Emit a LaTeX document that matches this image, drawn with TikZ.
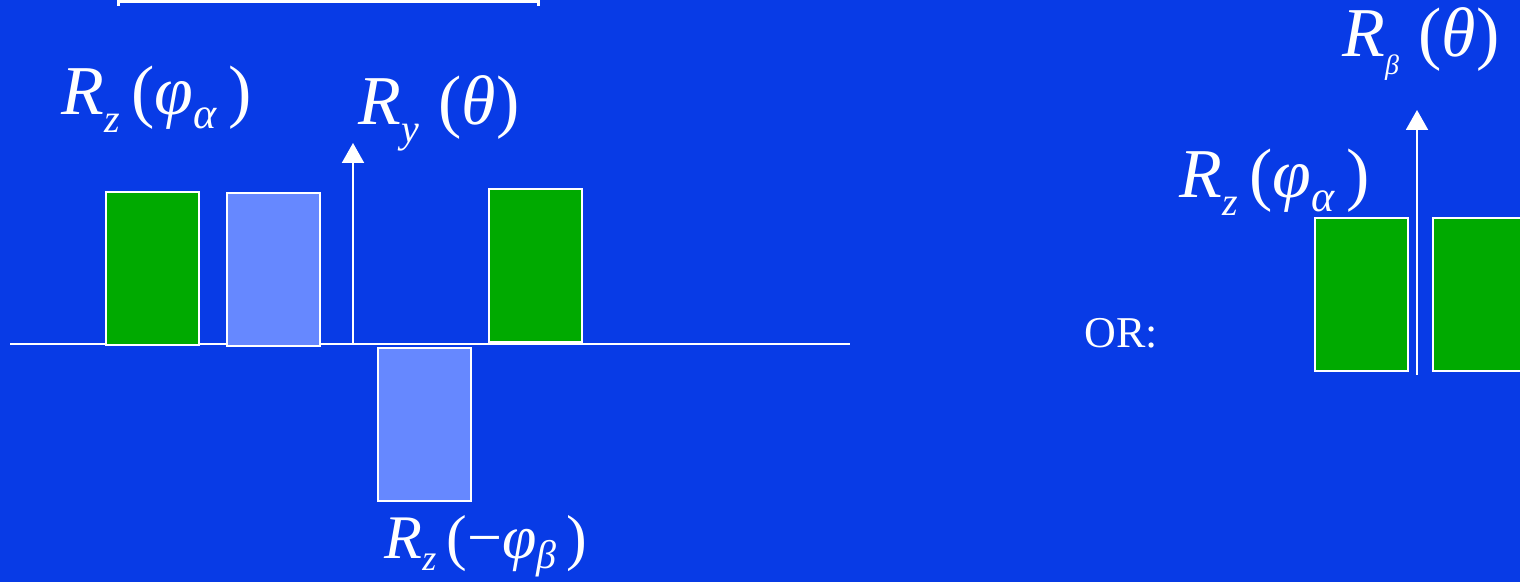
\documentclass[tikz,border=0pt]{standalone}
\usepackage{fontspec}
\setmainfont{Liberation Serif}
\usetikzlibrary{arrows.meta,positioning}
\definecolor{slide}{HTML}{083BE6}
\definecolor{pgreen}{HTML}{00AA00}
\definecolor{pblue}{HTML}{6688FF}
\newcommand{\labsize}{\fontsize{35}{38}\selectfont}
\newcommand{\subz}[1]{\lower9pt\hbox{\fontsize{20}{20}\selectfont\itshape #1}}
\newcommand{\subg}[1]{\lower7pt\hbox{\fontsize{22}{22}\selectfont\itshape #1}}

\begin{document}
\begin{tikzpicture}[x=0.5pt,y=-0.5pt]
  \tikzstyle{gp}=[rectangle,draw=white,line width=1pt,fill=pgreen,minimum width=46.5pt,minimum height=76.5pt,inner sep=0pt,anchor=north west]
  \tikzstyle{bp}=[gp,fill=pblue]
  \tikzstyle{lab}=[text=white,font=\labsize,inner sep=0pt,anchor=base west]
  \tikzstyle{rf}=[white,line width=1pt,-{Triangle[width=11pt,length=10pt]}]
  \fill[slide] (0,0) rectangle (1520,582);
  \useasboundingbox (0,0) rectangle (1520,582);
  % left sequence
  \coordinate (axl) at (10,344);
  \coordinate (axr) at (850,344);
  \draw[white,line width=1pt] (axl) -- (axr);
  \coordinate (bl) at (117,2);
  \coordinate (br) at (540,2);
  \draw[white,line width=1.5pt,{Bar[width=4pt]}-{Bar[width=4pt]}] (bl) -- (br);
  \node[gp] (za) at (105,191) {};
  \node[bp] (zb) at (226,192) {};
  \node[bp] (zm) at (377,347) {};
  \node[gp] (zc) at (488,188) {};
  \coordinate (yfoot) at (353,344);
  \coordinate (ytip) at (353,143);
  \draw[rf] (yfoot) -- (ytip);
  \node[lab] (lza) at (61,115) {\itshape R\subz{z}\,\upshape(\itshape φ\subg{α}\,\upshape)};
  \node[lab] (ly) at (358,125) {\itshape R\subz{y}\;\upshape(\itshape θ\upshape)};
  \node[lab,font=\fontsize{31}{33}\selectfont] (lzm) at (384,558) {\itshape R\lower6pt\hbox{\fontsize{18}{18}\selectfont\itshape z}\,\upshape(−\itshape φ\lower5pt\hbox{\fontsize{20}{20}\selectfont\itshape β}\,\upshape)};
  % alternative
  \node[text=white,font=\fontsize{22}{24}\selectfont,anchor=base west,inner sep=0pt] (or) at (1084,348) {OR:};
  \node[gp] (zd) at (1314,217) {};
  \node[gp] (ze) at (1432,217) {};
  \coordinate (bfoot) at (1417,375);
  \coordinate (btip) at (1417,110);
  \draw[rf] (bfoot) -- (btip);
  \node[lab] (lb) at (1342,57) {\itshape R\lower9pt\hbox{\fontsize{14}{14}\selectfont\itshape β}\;\upshape(\itshape θ\upshape)};
  \node[lab] (lzd) at (1179,198) {\itshape R\subz{z}\,\upshape(\itshape φ\subg{α}\,\upshape)};
\end{tikzpicture}
\end{document}
